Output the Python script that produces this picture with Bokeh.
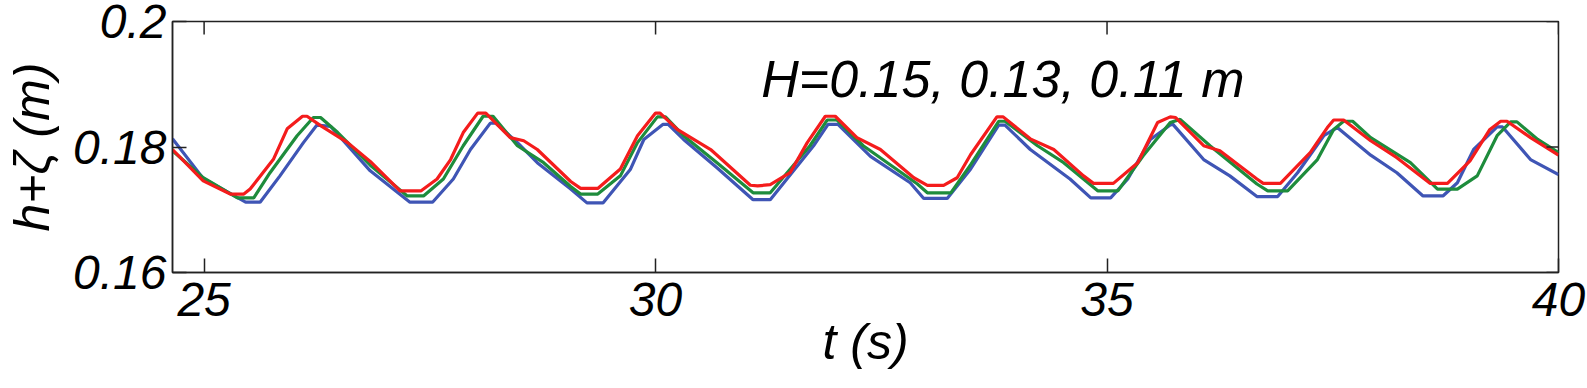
import math
from bokeh.plotting import figure
from bokeh.models import FixedTicker, Label
from bokeh.embed import file_html
from bokeh.resources import INLINE

# ---- data ----
t_blue = [24.65, 24.99, 25.46, 25.62, 25.84, 26.10, 26.25, 26.40, 26.84, 27.28, 27.53, 27.76, 27.95,
          28.17, 28.23, 28.47, 28.69, 29.06, 29.24, 29.42, 29.72, 29.87, 30.08, 30.14, 30.31, 30.68,
          31.08, 31.27, 31.75, 31.91, 32.02, 32.38, 32.82, 32.97, 33.23, 33.49, 33.80, 33.87, 34.15,
          34.59, 34.82, 35.04, 35.23, 35.48, 35.70, 35.73, 36.07, 36.36, 36.66, 36.89, 37.11, 37.40,
          37.55, 37.92, 38.21, 38.50, 38.72, 38.88, 39.06, 39.32, 39.38, 39.69, 40.00]
h_blue = [0.1813, 0.1750, 0.1712, 0.1712, 0.1754, 0.1807, 0.1835, 0.1833, 0.1762, 0.1712, 0.1712, 0.1749, 0.1796,
          0.1838, 0.1838, 0.1807, 0.1775, 0.1733, 0.1711, 0.1711, 0.1764, 0.1812, 0.1836, 0.1836, 0.1812, 0.1767,
          0.1716, 0.1716, 0.1802, 0.1836, 0.1836, 0.1785, 0.1743, 0.1718, 0.1718, 0.1765, 0.1835, 0.1835, 0.1796,
          0.1749, 0.1719, 0.1719, 0.1749, 0.1812, 0.1835, 0.1836, 0.1780, 0.1754, 0.1721, 0.1721, 0.1759, 0.1818,
          0.1831, 0.1787, 0.1759, 0.1722, 0.1722, 0.1743, 0.1796, 0.1832, 0.1832, 0.1780, 0.1756]

t_green = [24.65, 24.99, 25.37, 25.55, 25.73, 26.03, 26.21, 26.29, 26.48, 26.84, 27.25, 27.43, 27.65, 27.87,
           28.09, 28.20, 28.47, 28.76, 29.06, 29.17, 29.36, 29.61, 29.80, 30.02, 30.11, 30.31, 30.68, 31.08,
           31.27, 31.71, 31.90, 32.01, 32.30, 32.90, 33.01, 33.27, 33.49, 33.80, 33.87, 34.23, 34.52, 34.90,
           35.12, 35.40, 35.70, 35.81, 36.14, 36.66, 36.78, 37.00, 37.33, 37.51, 37.62, 37.72, 37.92, 38.36,
           38.66, 38.88, 39.10, 39.32, 39.47, 39.54, 39.77, 40.00]
h_green = [0.1794, 0.1751, 0.1719, 0.1719, 0.1759, 0.1818, 0.1847, 0.1847, 0.1823, 0.1771, 0.1722, 0.1722, 0.1749, 0.1802,
           0.1849, 0.1849, 0.1802, 0.1775, 0.1737, 0.1725, 0.1725, 0.1754, 0.1807, 0.1848, 0.1848, 0.1818, 0.1775, 0.1727,
           0.1727, 0.1802, 0.1843, 0.1843, 0.1802, 0.1741, 0.1727, 0.1727, 0.1772, 0.1841, 0.1841, 0.1802, 0.1775, 0.1730,
           0.1730, 0.1786, 0.1839, 0.1844, 0.1802, 0.1741, 0.1730, 0.1730, 0.1780, 0.1828, 0.1841, 0.1841, 0.1815, 0.1775,
           0.1733, 0.1733, 0.1754, 0.1818, 0.1840, 0.1840, 0.1812, 0.1791]

t_red = [24.65, 24.99, 25.29, 25.44, 25.51, 25.77, 25.92, 26.09, 26.14, 26.29, 26.59, 26.84, 27.17, 27.40,
         27.58, 27.73, 27.87, 28.03, 28.12, 28.39, 28.54, 28.69, 29.06, 29.17, 29.36, 29.61, 29.80, 30.00,
         30.05, 30.24, 30.61, 31.05, 31.13, 31.27, 31.49, 31.68, 31.88, 31.99, 32.23, 32.49, 32.86, 33.01,
         33.19, 33.34, 33.49, 33.78, 33.85, 34.15, 34.41, 34.74, 34.85, 35.07, 35.34, 35.56, 35.70, 35.76,
         36.07, 36.25, 36.66, 36.73, 36.92, 37.25, 37.44, 37.51, 37.62, 37.92, 38.21, 38.58, 38.77, 39.02,
         39.24, 39.36, 39.43, 39.69, 40.00]
h_red = [0.1796, 0.1746, 0.1725, 0.1725, 0.1733, 0.1781, 0.1829, 0.1849, 0.1849, 0.1834, 0.1807, 0.1777, 0.1730, 0.1730,
         0.1749, 0.1780, 0.1823, 0.1854, 0.1854, 0.1815, 0.1810, 0.1796, 0.1745, 0.1734, 0.1734, 0.1765, 0.1818, 0.1854,
         0.1854, 0.1828, 0.1796, 0.1739, 0.1738, 0.1740, 0.1759, 0.1807, 0.1849, 0.1849, 0.1815, 0.1796, 0.1751, 0.1739,
         0.1739, 0.1751, 0.1788, 0.1848, 0.1848, 0.1813, 0.1796, 0.1754, 0.1742, 0.1742, 0.1775, 0.1839, 0.1848, 0.1847,
         0.1802, 0.1794, 0.1749, 0.1742, 0.1742, 0.1791, 0.1831, 0.1843, 0.1843, 0.1810, 0.1783, 0.1742, 0.1742, 0.1778,
         0.1828, 0.1841, 0.1841, 0.1815, 0.1787]

x_ticks = [25, 30, 35, 40]
y_ticks = [0.16, 0.18, 0.2]
y_tick_labels = {0.16: "0.16", 0.18: "0.18", 0.2: "0.2"}
x_title = "t (s)"
y_title = "h+ζ (m)"
annotation_text = "H=0.15, 0.13, 0.11 m"

FONT = "Liberation Sans"
X0, X1 = 24.65, 40.0
Y0, Y1 = 0.16, 0.2

p = figure(width=1587, height=388, x_range=(X0, X1), y_range=(Y0, Y1),
           output_backend="svg", toolbar_location=None,
           min_border_left=172, min_border_right=29, min_border_top=21, min_border_bottom=116,
           x_axis_label=x_title, y_axis_label=y_title)

p.xgrid.visible = False
p.ygrid.visible = False
p.outline_line_color = "#222222"
p.outline_line_width = 1.5
p.background_fill_color = "white"
p.border_fill_color = "white"

p.line(t_blue, h_blue, line_color="#3f55b5", line_width=3.2)
p.line(t_green, h_green, line_color="#1e8c3c", line_width=3.2)
p.line(t_red, h_red, line_color="#f41c1c", line_width=3.2)

for ax in (p.xaxis[0], p.yaxis[0]):
    ax.axis_line_color = "#222222"
    ax.axis_line_width = 1.5
    ax.major_tick_line_color = "#222222"
    ax.major_tick_line_width = 1.5
    ax.major_tick_in = 14
    ax.major_tick_out = 0
    ax.minor_tick_line_color = None
    ax.major_label_text_font = FONT
    ax.major_label_text_font_style = "italic"
    ax.major_label_text_color = "black"
    ax.major_label_text_font_size = "48px"
    ax.axis_label_text_font = FONT
    ax.axis_label_text_font_style = "italic"
    ax.axis_label_text_color = "black"
    ax.axis_label_text_font_size = "50px"

p.xaxis[0].ticker = FixedTicker(ticks=x_ticks)
p.yaxis[0].ticker = FixedTicker(ticks=y_ticks)
p.yaxis[0].major_label_overrides = y_tick_labels
p.xaxis[0].major_label_standoff = 10
p.yaxis[0].major_label_standoff = 6
p.xaxis[0].axis_label_standoff = -5
p.yaxis[0].axis_label_standoff = 10

# inward ticks on the top and right edges of the box (clipped to the frame)
p.scatter(x=x_ticks, y=[Y1] * len(x_ticks), marker="dash", size=26, angle=math.pi / 2,
          line_color="#222222", line_width=1.5)
p.scatter(x=[X1] * len(y_ticks), y=y_ticks, marker="dash", size=24,
          line_color="#222222", line_width=1.5)

p.add_layout(Label(x=31.17, y=0.1909, text=annotation_text, text_font=FONT,
                   text_font_style="italic", text_font_size="52px", text_color="black",
                   text_align="left", text_baseline="alphabetic"))

open("out.html", "w").write(file_html(p, INLINE))
